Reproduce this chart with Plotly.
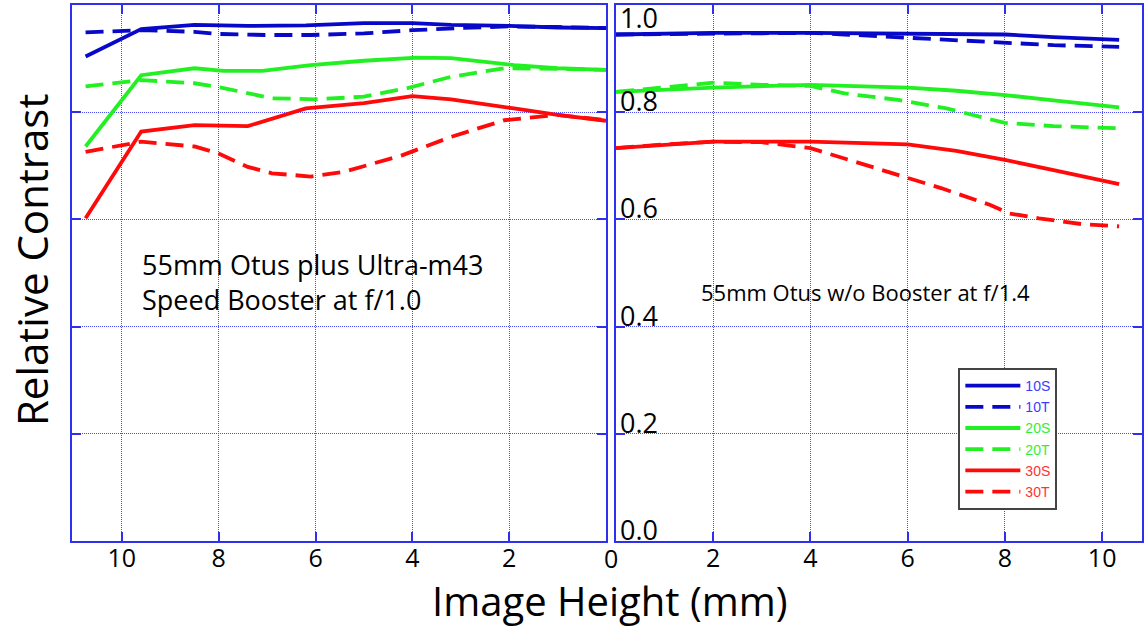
import plotly.graph_objects as go

# ---------------- data ----------------
series_names = ["10S", "10T", "20S", "20T", "30S", "30T"]
series_colors = ["#0808c8", "#0808c8", "#22f022", "#22f022", "#ff0a0a", "#ff0a0a"]
label_colors = ["#3b3bff", "#3b3bff", "#33ee33", "#33ee33", "#ff3333", "#ff3333"]
series_dash = ["solid", "18px,9px", "solid", "18px,9px", "solid", "18px,9px"]

# Left panel: 55mm Otus + Ultra-m43 Speed Booster at f/1.0
L_10S_x = [10.75, 9.6, 8.5, 7.4, 6.2, 5.0, 4.0, 3.2, 2.0, 1.0, 0.0]
L_10S_y = [0.904, 0.955, 0.963, 0.961, 0.962, 0.966, 0.966, 0.963, 0.961, 0.958, 0.957]
L_10T_x = [10.75, 9.6, 8.5, 8.0, 7.0, 6.1, 5.0, 4.0, 3.0, 2.0, 1.0, 0.0]
L_10T_y = [0.949, 0.953, 0.950, 0.946, 0.944, 0.944, 0.947, 0.953, 0.957, 0.960, 0.959, 0.957]
L_20S_x = [10.75, 9.6, 8.5, 7.9, 7.1, 6.1, 5.0, 3.9, 3.2, 1.9, 1.0, 0.0]
L_20S_y = [0.736, 0.869, 0.882, 0.877, 0.877, 0.888, 0.896, 0.902, 0.901, 0.888, 0.882, 0.879]
L_20T_x = [10.75, 9.6, 8.5, 7.9, 6.9, 6.0, 5.0, 4.1, 3.2, 2.1, 1.0, 0.0]
L_20T_y = [0.848, 0.860, 0.854, 0.845, 0.826, 0.824, 0.829, 0.845, 0.866, 0.882, 0.881, 0.879]
L_30S_x = [10.75, 9.6, 8.5, 7.4, 6.2, 5.0, 4.0, 3.2, 1.9, 1.0, 0.0]
L_30S_y = [0.602, 0.764, 0.776, 0.774, 0.807, 0.817, 0.830, 0.824, 0.807, 0.795, 0.784]
L_30T_x = [10.75, 9.6, 8.5, 8.0, 7.4, 6.9, 6.1, 5.4, 4.2, 3.2, 2.1, 1.0, 0.0]
L_30T_y = [0.726, 0.745, 0.736, 0.723, 0.698, 0.686, 0.680, 0.689, 0.720, 0.754, 0.785, 0.795, 0.785]

# Right panel: 55mm Otus without Booster at f/1.4
R_10S_x = [0, 2, 4, 6, 7, 8, 9, 10.35]
R_10S_y = [0.945, 0.948, 0.948, 0.947, 0.946, 0.945, 0.940, 0.935]
R_10T_x = [0, 2, 4, 4.7, 6, 7, 8, 9, 10.35]
R_10T_y = [0.945, 0.947, 0.948, 0.945, 0.939, 0.934, 0.928, 0.925, 0.922]
R_20S_x = [0, 2, 4, 6, 7, 8, 9, 10.35]
R_20S_y = [0.838, 0.846, 0.851, 0.846, 0.840, 0.832, 0.822, 0.809]
R_20T_x = [0, 2, 3, 4, 4.7, 5.8, 6.8, 8, 9, 10.35]
R_20T_y = [0.838, 0.855, 0.851, 0.849, 0.835, 0.823, 0.807, 0.780, 0.774, 0.770]
R_30S_x = [0, 2, 4, 6, 7, 8, 9, 10.35]
R_30S_y = [0.733, 0.745, 0.745, 0.740, 0.728, 0.711, 0.692, 0.666]
R_30T_x = [0, 1, 2, 3, 4, 4.7, 5.7, 6.7, 7.7, 8.1, 8.7, 9.6, 10.35]
R_30T_y = [0.733, 0.740, 0.745, 0.744, 0.733, 0.714, 0.686, 0.658, 0.627, 0.611, 0.602, 0.591, 0.587]

left_series = [(L_10S_x, L_10S_y), (L_10T_x, L_10T_y), (L_20S_x, L_20S_y),
               (L_20T_x, L_20T_y), (L_30S_x, L_30S_y), (L_30T_x, L_30T_y)]
right_series = [(R_10S_x, R_10S_y), (R_10T_x, R_10T_y), (R_20S_x, R_20S_y),
                (R_20T_x, R_20T_y), (R_30S_x, R_30S_y), (R_30T_x, R_30T_y)]

left_xticks = [10, 8, 6, 4, 2]
right_xticks = [2, 4, 6, 8, 10]
shared_zero_label = "0"
y_ticks = [0.0, 0.2, 0.4, 0.6, 0.8, 1.0]
y_ticklabels = ["0.0", "0.2", "0.4", "0.6", "0.8", "1.0"]

left_note = ["55mm Otus plus Ultra-m43", "Speed Booster at f/1.0"]
right_note = "55mm Otus w/o Booster at f/1.4"
x_title = "Image Height (mm)"
y_title = "Relative Contrast"

# ---------------- figure ----------------
W, H = 1144, 627
ML, MR, MT, MB = 72, 0, 5, 86
PW = W - ML - MR
PH = H - MT - MB

def px_x(p):  # pixel -> paper x
    return (p - ML) / PW

def px_y(p):  # pixel -> paper y
    return (H - MB - p) / PH

AX = "#2f2ff0"
GRID = "#4a4aff"
FONT = "Open Sans"

fig = go.Figure()
for i, (xs, ys) in enumerate(left_series):
    fig.add_trace(go.Scatter(x=xs, y=ys, mode="lines", xaxis="x", yaxis="y",
                             line=dict(color=series_colors[i], width=3.8, dash=series_dash[i]),
                             showlegend=False))
for i, (xs, ys) in enumerate(right_series):
    fig.add_trace(go.Scatter(x=xs, y=ys, mode="lines", xaxis="x2", yaxis="y2",
                             line=dict(color=series_colors[i], width=3.8, dash=series_dash[i]),
                             name=f"<span style='color:{label_colors[i]}'>{series_names[i]}</span>",
                             showlegend=True))

axis_common = dict(showline=True, linecolor=AX, linewidth=2, mirror="allticks",
                   ticks="inside", ticklen=9, tickcolor=AX, tickwidth=1.5,
                   showgrid=True, gridcolor=GRID, gridwidth=1, griddash="1px,1px",
                   zeroline=False)

fig.update_layout(
    width=W, height=H,
    margin=dict(l=ML, r=MR, t=MT, b=MB),
    paper_bgcolor="white", plot_bgcolor="white",
    font=dict(family=FONT, color="black"),
    xaxis=dict(domain=[0, px_x(607)], range=[11.03, 0], tickvals=left_xticks,
               tickfont=dict(size=25, family=FONT), ticklabelstandoff=-6,
               anchor="y", **axis_common),
    yaxis=dict(domain=[0, 1], range=[0, 1.0], tickvals=y_ticks, showticklabels=False,
               anchor="x", **axis_common),
    xaxis2=dict(domain=[px_x(617), 1], range=[0, 10.82], tickvals=right_xticks,
                tickfont=dict(size=25, family=FONT), ticklabelstandoff=-6,
                anchor="y2", **axis_common),
    yaxis2=dict(domain=[0, 1], range=[0, 1.0], tickvals=y_ticks, showticklabels=False,
                anchor="x2", **axis_common),
    legend=dict(x=px_x(960), y=px_y(368), xanchor="left", yanchor="top",
                bgcolor="white", bordercolor="#444444", borderwidth=2,
                font=dict(family="Liberation Sans", size=14),
                itemwidth=55, tracegroupgap=0),
    showlegend=True,
)

ann = []
# y tick labels inside right panel
for v, t in zip(y_ticks, y_ticklabels):
    if v >= 1.0:
        ann.append(dict(x=0, y=v, xref="x2", yref="y2", text=t, showarrow=False,
                        xanchor="left", yanchor="top", xshift=2, yshift=8,
                        font=dict(size=27, family=FONT, color="black")))
    else:
        ann.append(dict(x=0, y=v, xref="x2", yref="y2", text=t, showarrow=False,
                        xanchor="left", yanchor="bottom", xshift=2, yshift=-9,
                        font=dict(size=27, family=FONT, color="black")))
# shared 0 tick label between panels
ann.append(dict(x=px_x(612), y=px_y(558), xref="paper", yref="paper", text=shared_zero_label,
                showarrow=False, xanchor="center", yanchor="middle",
                font=dict(size=25, family=FONT, color="black")))
# panel notes
ann.append(dict(x=px_x(140), y=px_y(282), xref="paper", yref="paper",
                text="<br>".join(left_note), align="left",
                showarrow=False, xanchor="left", yanchor="middle",
                font=dict(size=27, family=FONT, color="black")))
ann.append(dict(x=px_x(700), y=px_y(292), xref="paper", yref="paper", text=right_note,
                showarrow=False, xanchor="left", yanchor="middle",
                font=dict(size=22, family=FONT, color="black")))
# axis titles
ann.append(dict(x=px_x(611), y=px_y(600), xref="paper", yref="paper", text=x_title,
                showarrow=False, xanchor="center", yanchor="middle",
                font=dict(size=40, family=FONT, color="black")))
ann.append(dict(x=px_x(31), y=px_y(260), xref="paper", yref="paper", text=y_title,
                showarrow=False, xanchor="center", yanchor="middle", textangle=-90,
                font=dict(size=42, family=FONT, color="black")))
fig.update_layout(annotations=ann)

fig.write_html("out.html", config={"displayModeBar": False},
               post_script="document.body.style.margin='0px';document.body.style.overflow='hidden';")
